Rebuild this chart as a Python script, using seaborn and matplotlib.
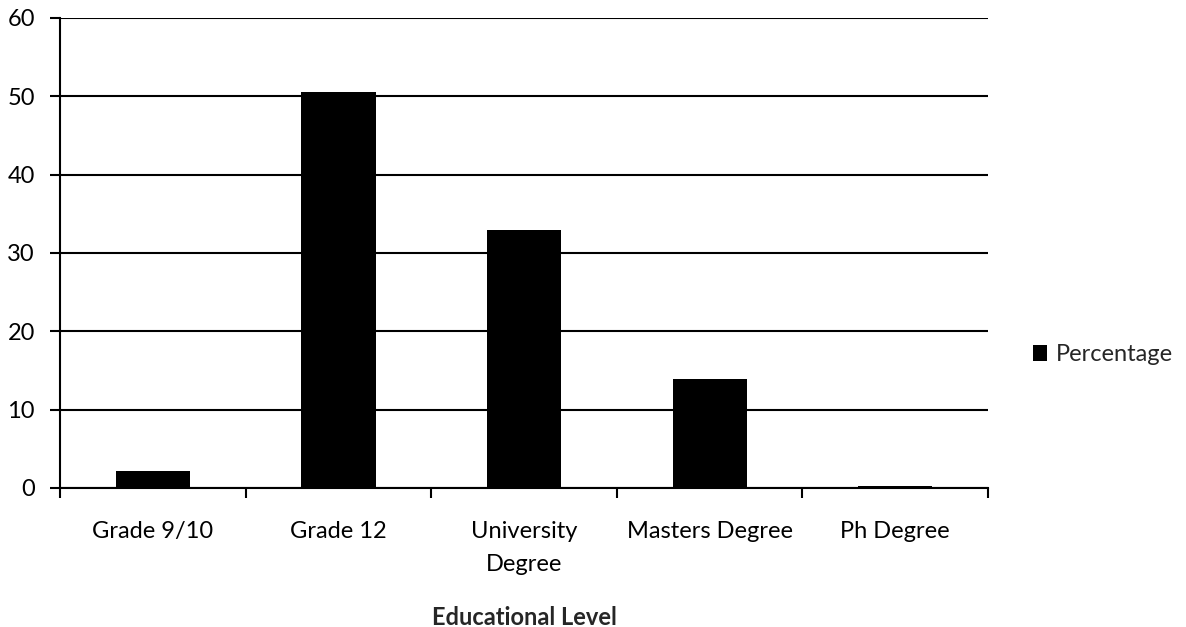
import matplotlib
matplotlib.use("Agg")
import matplotlib.pyplot as plt
import seaborn as sns
import pandas as pd
import numpy as np

levels = ["Grade 9/10", "Grade 12", "University\nDegree", "Masters Degree", "Ph Degree"]
percentage = [2.2, 50.5, 32.9, 13.9, 0.2]
y_ticks = [0, 10, 20, 30, 40, 50, 60]

sns.set_theme(style="white")
plt.rcParams["font.family"] = ["Lato", "DejaVu Sans"]

df = pd.DataFrame({"Educational Level": levels, "Percentage": percentage})

fig = plt.figure(figsize=(11.86, 6.27), dpi=100)
ax = fig.add_axes([0.0506, 0.2217, 0.7825, 0.7496])

sns.barplot(data=df, x="Educational Level", y="Percentage", color="black",
            width=0.4, ax=ax, label="Percentage", zorder=3, saturation=1,
            linewidth=0)

ax.set_ylim(0, 60)
ax.set_xlim(-0.5, len(levels) - 0.5)
ax.set_yticks(y_ticks)
ax.yaxis.grid(True, color="black", linewidth=1.5, zorder=0)
ax.set_axisbelow(True)

for side in ["top", "right"]:
    ax.spines[side].set_visible(False)
for side in ["left", "bottom"]:
    ax.spines[side].set_color("black")
    ax.spines[side].set_linewidth(1.5)

ax.tick_params(axis="y", which="major", left=True, length=7, width=1.5,
               color="black", labelsize=17, pad=11)
ax.set_xticks(np.arange(len(levels)))
ax.set_xticklabels(levels, linespacing=1.7)
ax.set_xticks(np.arange(-0.5, len(levels)), minor=True)
ax.tick_params(axis="x", which="major", length=0, labelsize=17, pad=24)
ax.tick_params(axis="x", which="minor", bottom=True, length=7, width=1.5, color="black")
ax.tick_params(colors="black", which="both")

ax.set_ylabel("")
ax.set_xlabel("Educational Level", fontsize=17, fontweight="bold", labelpad=22)

ax.legend(loc="center left", bbox_to_anchor=(1.025, 0.283), frameon=False,
          fontsize=17, handlelength=0.6, handleheight=0.7, handletextpad=0.4)

fig.savefig("out.png", dpi=100, facecolor="white")
